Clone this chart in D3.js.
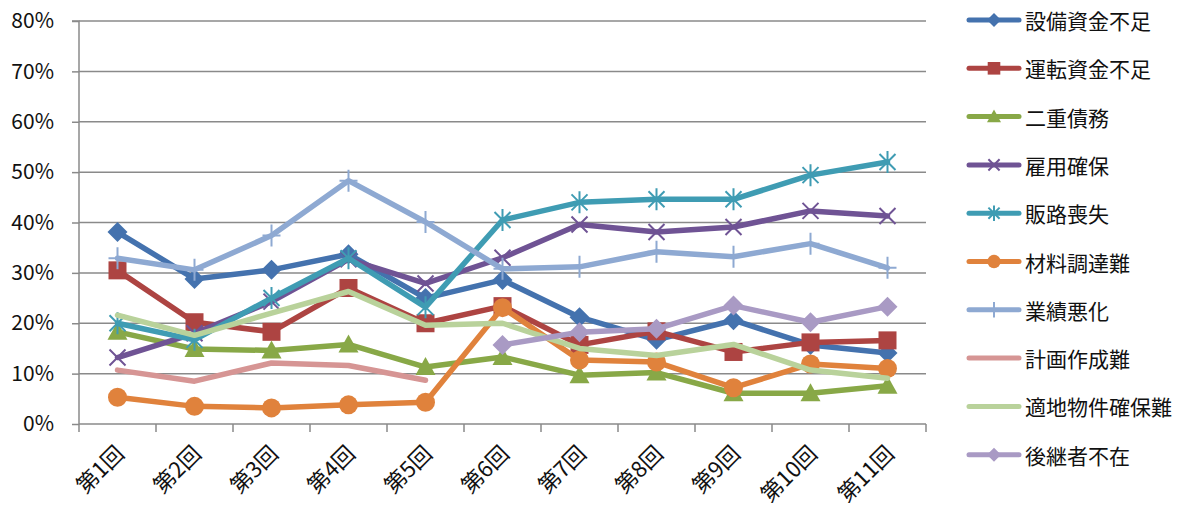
<!DOCTYPE html>
<html><head><meta charset="utf-8">
<script src="https://cdn.jsdelivr.net/npm/d3@7"></script>
<style>body{margin:0;background:#fff}svg{display:block}text{font-family:"Noto Sans CJK JP","Noto Sans",sans-serif}</style>
</head><body><svg id="c" width="1196" height="510"></svg>
<script>
const categories = ["第1回","第2回","第3回","第4回","第5回","第6回","第7回","第8回","第9回","第10回","第11回"];
const yTicks = [0,0.1,0.2,0.3,0.4,0.5,0.6,0.7,0.8];
const seriesNames = ["設備資金不足","運転資金不足","二重債務","雇用確保","販路喪失","材料調達難","業績悪化","計画作成難","適地物件確保難","後継者不在"];
const s設備資金不足 = [0.381,0.288,0.306,0.337,0.250,0.286,0.212,0.167,0.206,0.157,0.141];
const s運転資金不足 = [0.305,0.202,0.183,0.270,0.200,0.234,0.157,0.184,0.143,0.162,0.166];
const s二重債務 = [0.183,0.149,0.146,0.158,0.113,0.133,0.097,0.102,0.061,0.061,0.076];
const s雇用確保 = [0.132,0.180,0.243,0.327,0.279,0.330,0.396,0.381,0.391,0.423,0.413];
const s販路喪失 = [0.200,0.167,0.250,0.329,0.232,0.405,0.440,0.446,0.446,0.494,0.520];
const s材料調達難 = [0.053,0.035,0.032,0.038,0.043,0.231,0.127,0.123,0.072,0.119,0.110];
const s業績悪化 = [0.329,0.306,0.374,0.483,0.401,0.308,0.312,0.342,0.332,0.358,0.310];
const s計画作成難 = [0.107,0.085,0.121,0.116,0.087,null,null,null,null,null,null];
const s適地物件確保難 = [0.216,0.176,0.220,0.263,0.196,0.200,0.150,0.136,0.158,0.107,0.091];
const s後継者不在 = [null,null,null,null,null,0.157,0.182,0.189,0.235,0.202,0.233];
const seriesValues = [s設備資金不足,s運転資金不足,s二重債務,s雇用確保,s販路喪失,s材料調達難,s業績悪化,s計画作成難,s適地物件確保難,s後継者不在];
const colors = ["#4472ae","#ad4442","#88a847","#6f5394","#3f9cb3","#e0823c","#8ea9d2","#d69594","#b9d29b","#a99ac4"];
const markers = ["diamond","square","triangle","x","asterisk","circle","plus","none","none","diamond"];

const svg = d3.select("#c");
const L=79, R=926, T=21, B=424;
const x = d3.scaleBand().domain(categories).range([L,R]).padding(0);
const y = d3.scaleLinear().domain([0,0.8]).range([B,T]);
const cx = c => x(c)+x.bandwidth()/2;

// gridlines
svg.append("g").selectAll("line").data(yTicks.filter(d=>d>0)).join("line")
  .attr("x1",L).attr("x2",R).attr("y1",d=>y(d)).attr("y2",d=>y(d))
  .attr("stroke","#8a8a8a").attr("stroke-width",1.5);

// y axis
const ya = svg.append("g").attr("transform",`translate(${L},0)`)
  .call(d3.axisLeft(y).tickValues(yTicks).tickFormat(d3.format(".0%")).tickSize(7).tickPadding(18));
ya.select(".domain").attr("stroke","#8a8a8a").attr("stroke-width",1.5).attr("d",`M-7,${T}H0V${B}`);
ya.selectAll(".tick line").attr("stroke","#8a8a8a").attr("stroke-width",1.5);
ya.selectAll(".tick text").attr("font-size",21).attr("fill","#111").attr("font-family","'Open Sans','Noto Sans',sans-serif");

// x axis
const xa = svg.append("g").attr("transform",`translate(0,${B})`)
  .call(d3.axisBottom(x).tickSize(0).tickFormat(""));
xa.select(".domain").attr("stroke","#8a8a8a").attr("stroke-width",1.5).attr("d",`M${L},0H${R}`);
const tickPos = categories.map(c=>x(c)).concat([R]);
xa.append("g").selectAll("line").data(tickPos).join("line")
  .attr("x1",d=>d).attr("x2",d=>d).attr("y1",0).attr("y2",8)
  .attr("stroke","#8a8a8a").attr("stroke-width",1.5);
svg.append("g").selectAll("text").data(categories).join("text")
  .attr("transform",d=>`translate(${cx(d)+1},${B+24}) rotate(-45)`)
  .attr("text-anchor","end").attr("dominant-baseline","central")
  .attr("font-size",22).attr("fill","#111").text(d=>d);

function drawMarker(g, type, color, px, py, scale=1){
  const s=scale;
  if(type==="diamond"){
    g.append("path").attr("d",`M${px},${py-10*s}L${px+10*s},${py}L${px},${py+10*s}L${px-10*s},${py}Z`).attr("fill",color);
  } else if(type==="square"){
    g.append("rect").attr("x",px-9*s).attr("y",py-9*s).attr("width",18*s).attr("height",18*s).attr("fill",color);
  } else if(type==="triangle"){
    g.append("path").attr("d",`M${px},${py-10*s}L${px+10*s},${py+8*s}L${px-10*s},${py+8*s}Z`).attr("fill",color);
  } else if(type==="circle"){
    g.append("circle").attr("cx",px).attr("cy",py).attr("r",9.5*s).attr("fill",color);
  } else if(type==="x"){
    g.append("path").attr("d",`M${px-8*s},${py-8*s}L${px+8*s},${py+8*s}M${px+8*s},${py-8*s}L${px-8*s},${py+8*s}`).attr("stroke",color).attr("stroke-width",2);
  } else if(type==="asterisk"){
    g.append("path").attr("d",`M${px-8*s},${py-8*s}L${px+8*s},${py+8*s}M${px+8*s},${py-8*s}L${px-8*s},${py+8*s}M${px},${py-11*s}L${px},${py+11*s}`).attr("stroke",color).attr("stroke-width",2);
  } else if(type==="plus"){
    g.append("path").attr("d",`M${px-9*s},${py}L${px+9*s},${py}M${px},${py-11*s}L${px},${py+11*s}`).attr("stroke",color).attr("stroke-width",2);
  }
}

const line = d3.line().defined(d=>d.v!=null).x(d=>cx(d.c)).y(d=>y(d.v));
seriesValues.forEach((vals,i)=>{
  const g = svg.append("g");
  const pts = vals.map((v,j)=>({c:categories[j],v}));
  g.append("path").datum(pts).attr("d",line).attr("fill","none")
    .attr("stroke",colors[i]).attr("stroke-width",5.5).attr("stroke-linejoin","round").attr("stroke-linecap","round");
  pts.filter(p=>p.v!=null).forEach(p=>drawMarker(g,markers[i],colors[i],cx(p.c),y(p.v)));
});

// legend
const lg = svg.append("g");
seriesNames.forEach((n,i)=>{
  const ly = 20 + i*48.3;
  const g = lg.append("g");
  g.append("line").attr("x1",969).attr("x2",1019).attr("y1",ly).attr("y2",ly)
    .attr("stroke",colors[i]).attr("stroke-width",5).attr("stroke-linecap","round");
  drawMarker(g,markers[i],colors[i],994,ly,0.7);
  g.append("text").attr("x",1025).attr("y",ly).attr("dominant-baseline","central")
    .attr("font-size",21).attr("fill","#111").text(n);
});
</script></body></html>
